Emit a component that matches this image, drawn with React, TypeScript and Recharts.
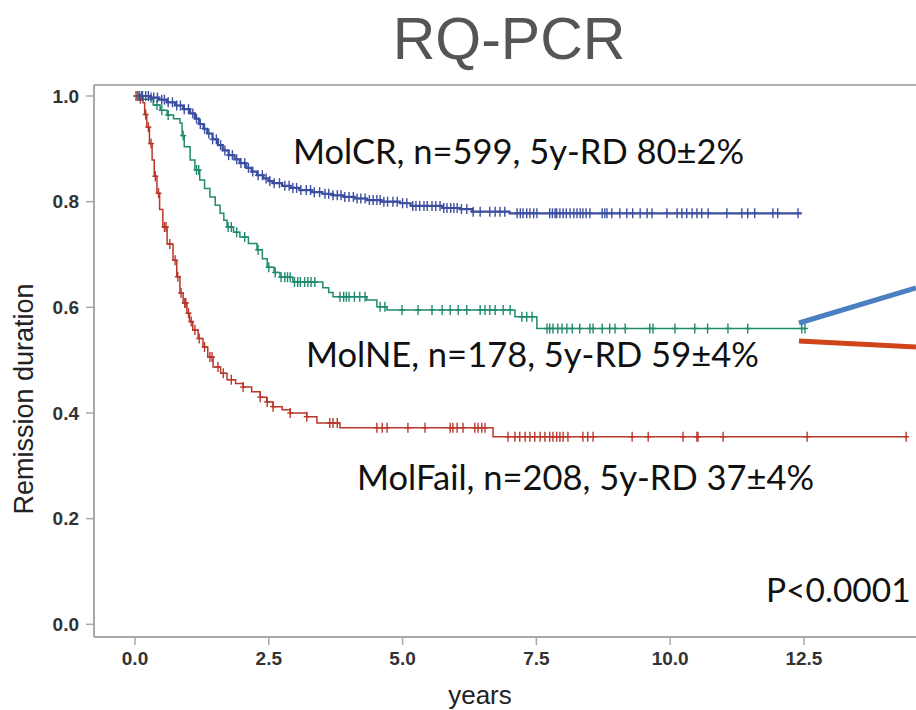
import React from "react";
import { ComposedChart, Line, Scatter, XAxis, YAxis, ReferenceLine } from "recharts";

// ---------- data ----------
const xTicks = [0, 2.5, 5, 7.5, 10, 12.5];
const yTicks = [0, 0.2, 0.4, 0.6, 0.8, 1.0];

// MolCR (blue)
const crT = [0, 0.3, 0.45, 0.6, 0.75, 0.9, 1.03, 1.12, 1.2, 1.28, 1.35, 1.45, 1.55, 1.64, 1.75, 1.86, 1.96, 2.08, 2.18, 2.28, 2.4, 2.5, 2.58, 2.75, 2.9, 3.08, 3.3, 3.5, 3.7, 3.9, 4.1, 4.33, 4.6, 4.95, 5.15, 5.75, 6.07, 6.3, 7.0, 12.46];
const crS = [1.0, 0.997, 0.993, 0.988, 0.982, 0.975, 0.967, 0.957, 0.947, 0.938, 0.929, 0.918, 0.907, 0.897, 0.888, 0.88, 0.873, 0.864, 0.857, 0.85, 0.844, 0.839, 0.835, 0.83, 0.826, 0.822, 0.818, 0.815, 0.812, 0.809, 0.806, 0.803, 0.8, 0.797, 0.792, 0.788, 0.786, 0.781, 0.778, 0.778];
const crCens = [0.08, 0.14, 0.2, 0.25, 0.3, 0.35, 0.42, 0.5, 0.55, 0.62, 0.7, 0.78, 0.85, 0.92, 1.0, 1.08, 1.15, 1.22, 1.3, 1.38, 1.45, 1.52, 1.6, 1.68, 1.75, 1.82, 1.9, 1.98, 2.05, 2.12, 2.2, 2.3, 2.38, 2.45, 2.52, 2.6, 2.7, 2.8, 2.88, 2.95, 3.02, 3.1, 3.2, 3.28, 3.35, 3.45, 3.55, 3.62, 3.7, 3.78, 3.85, 3.92, 4.0, 4.08, 4.15, 4.22, 4.3, 4.38, 4.45, 4.52, 4.58, 4.65, 4.72, 4.82, 4.9, 5.0, 5.08, 5.19, 5.25, 5.32, 5.4, 5.46, 5.55, 5.62, 5.7, 5.77, 5.83, 5.9, 5.96, 6.02, 6.1, 6.2, 6.32, 6.45, 6.63, 6.73, 6.82, 6.91, 7.14, 7.2, 7.25, 7.32, 7.38, 7.45, 7.51, 7.75, 7.8, 7.85, 7.88, 7.94, 8.0, 8.06, 8.13, 8.2, 8.26, 8.32, 8.37, 8.43, 8.5, 8.73, 8.78, 8.82, 8.91, 9.06, 9.19, 9.3, 9.44, 9.57, 9.66, 9.94, 10.13, 10.22, 10.31, 10.41, 10.5, 10.59, 10.71, 11.06, 11.34, 11.45, 11.58, 11.92, 12.01, 12.39];

// MolNE (teal)
const neT = [0, 0.15, 0.34, 0.47, 0.6, 0.72, 0.84, 0.88, 0.92, 1.03, 1.12, 1.21, 1.3, 1.4, 1.5, 1.59, 1.66, 1.72, 1.84, 1.96, 2.12, 2.28, 2.38, 2.47, 2.6, 2.71, 2.95, 3.51, 3.62, 3.7, 4.33, 4.52, 4.71, 7.1, 7.51, 12.52];
const neS = [1.0, 0.994, 0.983, 0.973, 0.964, 0.957, 0.949, 0.925, 0.904, 0.879, 0.86, 0.841, 0.825, 0.809, 0.793, 0.778, 0.765, 0.752, 0.742, 0.733, 0.721, 0.709, 0.692, 0.676, 0.666, 0.657, 0.648, 0.637, 0.628, 0.62, 0.614, 0.601, 0.595, 0.582, 0.56, 0.56];
const neCens = [0.05, 0.12, 0.41, 0.5, 0.62, 0.9, 1.15, 1.19, 1.74, 1.8, 1.9, 2.05, 2.3, 2.5, 2.62, 2.73, 2.8, 2.85, 2.9, 2.98, 3.04, 3.09, 3.17, 3.23, 3.29, 3.36, 3.83, 3.9, 3.95, 4.0, 4.1, 4.2, 4.3, 4.58, 4.67, 4.99, 5.29, 5.55, 5.74, 5.89, 6.04, 6.2, 6.45, 6.54, 6.63, 6.73, 6.88, 7.01, 7.23, 7.32, 7.42, 7.7, 7.75, 7.81, 7.9, 7.98, 8.07, 8.17, 8.31, 8.5, 8.56, 8.73, 8.87, 8.97, 9.16, 9.62, 9.68, 10.09, 10.46, 10.7, 11.08, 11.45, 12.46, 12.52];

// MolFail (red)
const mfT = [0, 0.08, 0.15, 0.18, 0.22, 0.27, 0.32, 0.36, 0.41, 0.46, 0.52, 0.6, 0.71, 0.78, 0.84, 0.9, 0.97, 1.02, 1.08, 1.18, 1.27, 1.36, 1.46, 1.6, 1.72, 1.88, 2.02, 2.18, 2.34, 2.46, 2.58, 2.75, 2.9, 3.21, 3.4, 3.83, 6.69, 14.41];
const mfS = [1.0, 0.995, 0.987, 0.965, 0.941, 0.91, 0.879, 0.848, 0.816, 0.785, 0.752, 0.72, 0.689, 0.658, 0.627, 0.608, 0.589, 0.573, 0.557, 0.541, 0.525, 0.506, 0.487, 0.475, 0.463, 0.456, 0.449, 0.44, 0.43, 0.421, 0.412, 0.406, 0.4, 0.393, 0.381, 0.372, 0.355, 0.355];
const mfCens = [0.02, 0.05, 0.1, 0.2, 0.25, 0.3, 0.38, 0.44, 0.55, 0.58, 0.65, 0.75, 0.8, 0.86, 0.93, 0.95, 1.0, 1.05, 1.12, 1.2, 1.3, 1.4, 1.44, 1.55, 1.65, 1.8, 2.02, 2.34, 2.47, 2.58, 2.9, 3.21, 3.64, 3.7, 3.78, 4.52, 4.62, 4.71, 5.1, 5.42, 5.89, 5.94, 6.02, 6.13, 6.35, 6.41, 6.48, 6.54, 6.97, 7.1, 7.19, 7.29, 7.38, 7.47, 7.57, 7.66, 7.75, 7.81, 7.88, 7.94, 8.0, 8.09, 8.37, 8.46, 8.56, 9.29, 9.59, 10.24, 10.5, 10.52, 10.99, 12.56, 14.41];

// ---------- helpers ----------
type Pt = { t: number; s: number };
const toCurve = (ts: number[], ss: number[]): Pt[] => ts.map((t, i) => ({ t, s: ss[i] }));
const stepAt = (curve: Pt[], t: number) => {
  let s = curve[0].s;
  for (const p of curve) {
    if (p.t <= t) s = p.s;
    else break;
  }
  return s;
};
const toCens = (curve: Pt[], ts: number[]): Pt[] => ts.map((t) => ({ t, s: stepAt(curve, t) }));

const crCurve = toCurve(crT, crS);
const neCurve = toCurve(neT, neS);
const mfCurve = toCurve(mfT, mfS);

const BLUE = "#3b4ea0";
const TEAL = "#1f8a6e";
const RED = "#b8372b";

const plus = (color: string) => (props: any) => {
  const { cx, cy } = props;
  if (cx == null || cy == null) return <g />;
  return (
    <g stroke={color} strokeWidth={1.4}>
      <line x1={cx} y1={cy - 5} x2={cx} y2={cy + 5} />
      <line x1={cx - 3} y1={cy} x2={cx + 3} y2={cy} />
    </g>
  );
};

const annoFont = "Lato, 'Open Sans', sans-serif";
const axisFont = "'Liberation Sans', Arial, sans-serif";

export default function App() {
  return (
    <div style={{ position: "absolute", left: 0, top: 0, width: 916, height: 710, overflow: "hidden", background: "#fff" }}>
      <ComposedChart width={980} height={710} margin={{ top: 85, right: 0, bottom: 0, left: 0 }}>
        <XAxis
          dataKey="t"
          type="number"
          domain={[-0.766, 15.79]}
          allowDataOverflow
          ticks={xTicks}
          tickFormatter={(v: number) => v.toFixed(1)}
          height={73}
          tickSize={8}
          tickMargin={7}
          axisLine={{ stroke: "#a8a8a8", strokeWidth: 2 }}
          tickLine={{ stroke: "#a8a8a8", strokeWidth: 1.5 }}
          tick={{ fill: "#333", fontSize: 19, fontWeight: 700, fontFamily: axisFont }}
        />
        <YAxis
          dataKey="s"
          type="number"
          domain={[-0.024, 1.0208]}
          allowDataOverflow
          ticks={yTicks}
          tickFormatter={(v: number) => v.toFixed(1)}
          width={94}
          tickSize={8}
          tickMargin={7}
          axisLine={{ stroke: "#a8a8a8", strokeWidth: 2 }}
          tickLine={{ stroke: "#a8a8a8", strokeWidth: 1.5 }}
          tick={{ fill: "#333", fontSize: 19, fontWeight: 700, fontFamily: axisFont }}
        />
        <ReferenceLine y={1.0208} stroke="#b0b0b0" strokeWidth={2} />
        <Line data={mfCurve} dataKey="s" type="stepAfter" stroke={RED} strokeWidth={1.5} dot={false} isAnimationActive={false} />
        <Line data={neCurve} dataKey="s" type="stepAfter" stroke={TEAL} strokeWidth={1.5} dot={false} isAnimationActive={false} />
        <Line data={crCurve} dataKey="s" type="stepAfter" stroke={BLUE} strokeWidth={2.2} dot={false} isAnimationActive={false} />
        <Scatter data={toCens(mfCurve, mfCens)} dataKey="s" shape={plus(RED)} isAnimationActive={false} />
        <Scatter data={toCens(neCurve, neCens)} dataKey="s" shape={plus(TEAL)} isAnimationActive={false} />
        <Scatter data={toCens(crCurve, crCens)} dataKey="s" shape={plus(BLUE)} isAnimationActive={false} />
      </ComposedChart>
      <svg width={916} height={710} style={{ position: "absolute", left: 0, top: 0, pointerEvents: "none" }}>
        <text x={509} y={59} textAnchor="middle" fontSize={59} fill="#555" fontFamily={axisFont}>RQ-PCR</text>
        <text x={293} y={164} fontSize={34.5} fill="#111" fontFamily={annoFont}>MolCR, n=599, 5y-RD 80±2%</text>
        <text x={306} y={367} fontSize={34.5} fill="#111" fontFamily={annoFont}>MolNE, n=178, 5y-RD 59±4%</text>
        <text x={357} y={490} fontSize={34.5} fill="#111" fontFamily={annoFont}>MolFail, n=208, 5y-RD 37±4%</text>
        <text x={766} y={602} fontSize={33.5} fill="#111" fontFamily={annoFont}>P&lt;0.0001</text>
        <text x={480} y={704} textAnchor="middle" fontSize={26} fill="#222" fontFamily={axisFont}>years</text>
        <text x={0} y={0} transform="translate(33,399) rotate(-90)" textAnchor="middle" fontSize={27} fill="#222" fontFamily={axisFont}>Remission duration</text>
        <line x1={799} y1={323} x2={916} y2={288} stroke="#4a7fc1" strokeWidth={5} />
        <line x1={799} y1={341} x2={916} y2={347} stroke="#d0441a" strokeWidth={5} />
      </svg>
    </div>
  );
}
